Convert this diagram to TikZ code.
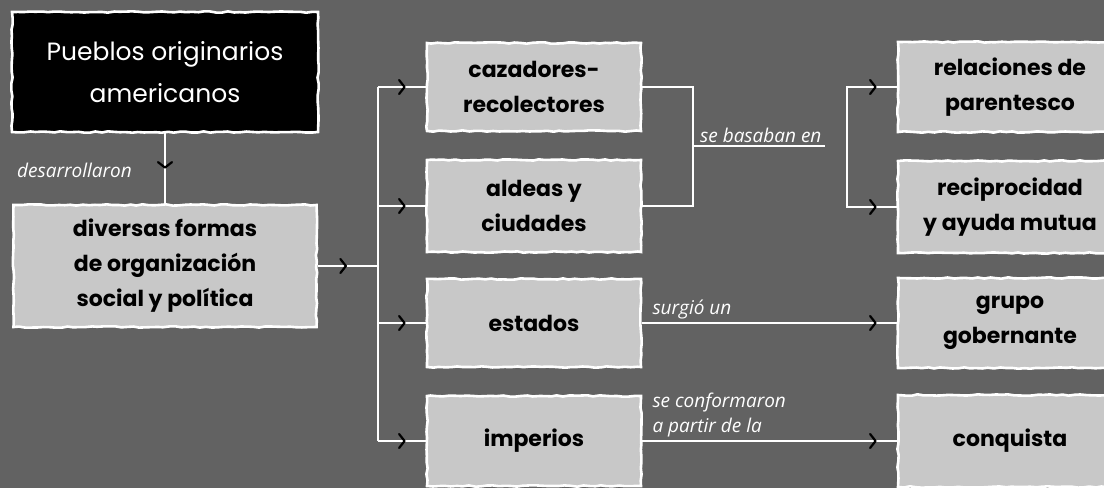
\documentclass[tikz,border=0pt]{standalone}
\usepackage{fontspec}
\setmainfont{Poppins}
\newfontfamily\notefont{Open Sans}
\usetikzlibrary{arrows.meta, positioning, decorations.pathmorphing, decorations.markings}
\definecolor{mygray0}{RGB}{98, 98, 98}
\definecolor{mygray1}{RGB}{200, 200, 200}

\begin{document}
\begin{tikzpicture}[
    x = 1pt, y = -1pt,
    box/.style = {draw = white, line width = 2.6pt, fill = mygray1, align = center,
        font = \bfseries\fontsize{22}{35}\selectfont, inner sep = 0pt,
        decorate, decoration = {random steps, segment length = 6pt, amplitude = 0.7pt}},
    head/.style = {box, fill = black, text = white, font = \fontsize{25}{42}\selectfont},
    ln/.style = {white, line width = 2pt},
    chev/.style = {ln, postaction = {decorate}, decoration = {markings,
        mark = at position -#1 with {\arrow{Straight Barb[color = black, length = 5.5pt, width = 14pt, line width = 2.2pt, round]}}}},
    chev/.default = 20pt,
    note/.style = {text = white, font = \notefont\itshape\fontsize{19}{25}\selectfont, inner sep = 1pt, align = left}
]

\clip (0, 0) rectangle (1104, 488);
\fill[mygray0] (0, 0) rectangle (1104, 488);

\node[head, minimum width = 306pt, minimum height = 120pt] (pueblos) at (165, 72) {Pueblos originarios\\americanos};
\node[box, minimum width = 303pt, minimum height = 122pt] (formas) at (165, 266) {diversas formas\\de organización\\social y política};

\node[box, minimum width = 214pt, minimum height = 88pt] (cazadores) at (534, 87) {cazadores-\\recolectores};
\node[box, minimum width = 214pt, minimum height = 92pt] (aldeas) at (534, 206) {aldeas y\\ciudades};
\node[box, minimum width = 214pt, minimum height = 88pt] (estados) at (534, 323) {estados};
\node[box, minimum width = 214pt, minimum height = 90pt] (imperios) at (534, 441) {imperios};

\node[box, minimum width = 224pt, minimum height = 90pt] (parentesco) at (1010, 87) {relaciones de\\parentesco};
\node[box, minimum width = 224pt, minimum height = 92pt] (reciprocidad) at (1010, 207) {reciprocidad\\y ayuda mutua};
\node[box, minimum width = 224pt, minimum height = 90pt] (gobernante) at (1010, 323) {grupo\\gobernante};
\node[box, minimum width = 224pt, minimum height = 92pt] (conquista) at (1010, 441) {conquista};

\coordinate (bus) at (378, 266);
\coordinate (brk) at (693, 146);
\coordinate (basaban) at (825, 146);
\coordinate (brk2) at (847, 146);

\draw[chev = 35pt] (pueblos.south) -- (formas.north);
\node[note, anchor = east] (ldesarrollaron) at (133, 170) {desarrollaron};

\draw[chev = 31pt] (formas.east) -- (bus);
\draw[ln] (cazadores.west -| bus) -- (imperios.west -| bus);
\foreach \n in {cazadores, aldeas, estados, imperios}
    \draw[chev] (\n.west -| bus) -- (\n.west);

\draw[ln] (cazadores.east) -| (brk) |- (aldeas.east);
\draw[ln] (brk) -- (basaban);
\node[note, above right = 2pt and 6pt of brk] (lbasaban) {se basaban en};
\draw[chev] (brk2) |- (parentesco.west);
\draw[chev] (brk2) |- (reciprocidad.west);

\draw[chev] (estados.east) -- (gobernante.west);
\node[note, above right = 3pt and 9pt of estados.east] (lsurgio) {surgió un};
\draw[chev] (imperios.east) -- (conquista.west);
\node[note, above right = 3pt and 9pt of imperios.east] (lconformaron) {se conformaron\\a partir de la};

\end{tikzpicture}
\end{document}
